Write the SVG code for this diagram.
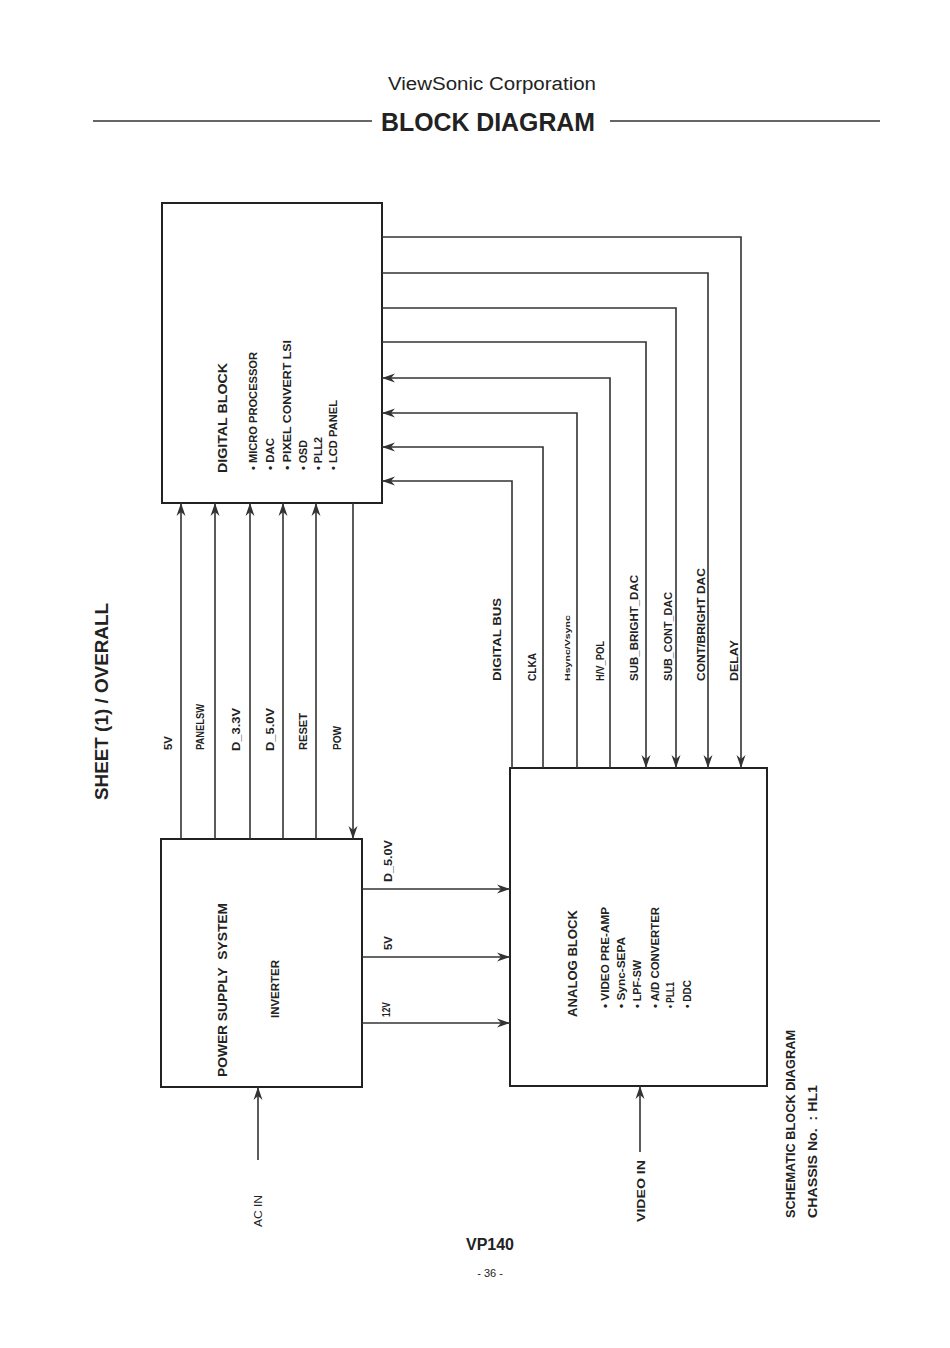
<svg xmlns="http://www.w3.org/2000/svg" width="950" height="1348" viewBox="0 0 950 1348">
<style>
.bg{fill:#fff}
.box{fill:none;stroke:#222;stroke-width:2}
.ln{fill:none;stroke:#333;stroke-width:1.6}
.t{font-family:"Liberation Sans",Arial,sans-serif;fill:#222}
.s{font-size:10px;font-weight:bold}
.m{font-size:13px;font-weight:bold}
.i{font-size:10px;font-weight:bold}
</style>
<defs>
<marker id="ah" markerWidth="14" markerHeight="10" viewBox="0 -5 14 10" refX="13" refY="0" orient="auto" markerUnits="userSpaceOnUse">
<path d="M0,-4.5 L13,0 L0,4.5 L4,0 Z" fill="#333"/>
</marker>
</defs>
<rect class="bg" x="0" y="0" width="950" height="1348"/>

<g id="header">
<text class="t" x="492" y="90" font-size="18" text-anchor="middle" textLength="208" lengthAdjust="spacingAndGlyphs">ViewSonic Corporation</text>
<line x1="93" y1="121" x2="372" y2="121" stroke="#333" stroke-width="1.5"/>
<line x1="610" y1="121" x2="880" y2="121" stroke="#333" stroke-width="1.5"/>
<text class="t" x="488" y="131" font-size="25" font-weight="bold" text-anchor="middle" textLength="214" lengthAdjust="spacingAndGlyphs">BLOCK DIAGRAM</text>
</g>

<g id="sheet-title">
<text class="t" transform="translate(108,800) rotate(-90)" font-size="18" font-weight="bold" textLength="197" lengthAdjust="spacingAndGlyphs">SHEET (1) / OVERALL</text>
</g>

<g id="digital-block">
<rect class="box" x="162" y="203" width="220" height="300"/>
<text class="t m" transform="translate(227,473) rotate(-90)" textLength="110" lengthAdjust="spacingAndGlyphs">DIGITAL BLOCK</text>
<text class="t i" transform="translate(257,470) rotate(-90)" textLength="118" lengthAdjust="spacingAndGlyphs">• MICRO PROCESSOR</text>
<text class="t i" transform="translate(274,470) rotate(-90)" textLength="32" lengthAdjust="spacingAndGlyphs">• DAC</text>
<text class="t i" transform="translate(291,470) rotate(-90)" textLength="130" lengthAdjust="spacingAndGlyphs">• PIXEL CONVERT LSI</text>
<text class="t i" transform="translate(307,470) rotate(-90)" textLength="30" lengthAdjust="spacingAndGlyphs">• OSD</text>
<text class="t i" transform="translate(322,470) rotate(-90)" textLength="33" lengthAdjust="spacingAndGlyphs">• PLL2</text>
<text class="t i" transform="translate(337,470) rotate(-90)" textLength="70" lengthAdjust="spacingAndGlyphs">• LCD PANEL</text>
</g>

<g id="power-supply">
<rect class="box" x="161" y="839" width="201" height="248"/>
<text class="t m" transform="translate(227,1077) rotate(-90)" textLength="174" lengthAdjust="spacingAndGlyphs">POWER SUPPLY&#160;&#160;SYSTEM</text>
<text class="t i" transform="translate(279,1018) rotate(-90)" textLength="58" lengthAdjust="spacingAndGlyphs">INVERTER</text>
</g>

<g id="analog-block">
<rect class="box" x="510" y="768" width="257" height="318"/>
<text class="t m" transform="translate(577,1017) rotate(-90)" textLength="107" lengthAdjust="spacingAndGlyphs">ANALOG BLOCK</text>
<text class="t i" transform="translate(609,1008) rotate(-90)" textLength="101" lengthAdjust="spacingAndGlyphs">• VIDEO PRE-AMP</text>
<text class="t i" transform="translate(625,1008) rotate(-90)" textLength="71" lengthAdjust="spacingAndGlyphs">• Sync-SEPA</text>
<text class="t i" transform="translate(641,1008) rotate(-90)" textLength="48" lengthAdjust="spacingAndGlyphs">• LPF-SW</text>
<text class="t i" transform="translate(659,1008) rotate(-90)" textLength="101" lengthAdjust="spacingAndGlyphs">• A/D CONVERTER</text>
<text class="t i" transform="translate(674,1008) rotate(-90)" textLength="26" lengthAdjust="spacingAndGlyphs">• PLL1</text>
<text class="t i" transform="translate(691,1008) rotate(-90)" textLength="28" lengthAdjust="spacingAndGlyphs">• DDC</text>
</g>

<g id="connectors">
<polyline class="ln" points="382,237 741,237 741,768" marker-end="url(#ah)"/>
<polyline class="ln" points="382,273 708,273 708,768" marker-end="url(#ah)"/>
<polyline class="ln" points="382,308 676,308 676,768" marker-end="url(#ah)"/>
<polyline class="ln" points="382,342 646,342 646,768" marker-end="url(#ah)"/>
<polyline class="ln" points="610,768 610,378 382,378" marker-end="url(#ah)"/>
<polyline class="ln" points="577,768 577,413 382,413" marker-end="url(#ah)"/>
<polyline class="ln" points="543,768 543,447 382,447" marker-end="url(#ah)"/>
<polyline class="ln" points="512,768 512,481 382,481" marker-end="url(#ah)"/>
<line class="ln" x1="181" y1="839" x2="181" y2="503" marker-end="url(#ah)"/>
<line class="ln" x1="215" y1="839" x2="215" y2="503" marker-end="url(#ah)"/>
<line class="ln" x1="250" y1="839" x2="250" y2="503" marker-end="url(#ah)"/>
<line class="ln" x1="283" y1="839" x2="283" y2="503" marker-end="url(#ah)"/>
<line class="ln" x1="316" y1="839" x2="316" y2="503" marker-end="url(#ah)"/>
<line class="ln" x1="353" y1="503" x2="353" y2="839" marker-end="url(#ah)"/>
<line class="ln" x1="362" y1="889" x2="510" y2="889" marker-end="url(#ah)"/>
<line class="ln" x1="362" y1="957" x2="510" y2="957" marker-end="url(#ah)"/>
<line class="ln" x1="362" y1="1023" x2="510" y2="1023" marker-end="url(#ah)"/>
<line class="ln" x1="258" y1="1160" x2="258" y2="1087" marker-end="url(#ah)"/>
<line class="ln" x1="640" y1="1152" x2="640" y2="1086" marker-end="url(#ah)"/>
</g>

<g id="connector-labels">
<text class="t s" transform="translate(172,750) rotate(-90)" textLength="14" lengthAdjust="spacingAndGlyphs">5V</text>
<text class="t s" transform="translate(204,750) rotate(-90)" textLength="46" lengthAdjust="spacingAndGlyphs">PANELSW</text>
<text class="t s" transform="translate(240,751) rotate(-90)" textLength="43" lengthAdjust="spacingAndGlyphs">D_3.3V</text>
<text class="t s" transform="translate(274,751) rotate(-90)" textLength="43" lengthAdjust="spacingAndGlyphs">D_5.0V</text>
<text class="t s" transform="translate(307,750) rotate(-90)" textLength="37" lengthAdjust="spacingAndGlyphs">RESET</text>
<text class="t s" transform="translate(341,750) rotate(-90)" textLength="24" lengthAdjust="spacingAndGlyphs">POW</text>

<text class="t s" transform="translate(501,681) rotate(-90)" textLength="83" lengthAdjust="spacingAndGlyphs">DIGITAL BUS</text>
<text class="t s" transform="translate(536,681) rotate(-90)" textLength="28" lengthAdjust="spacingAndGlyphs">CLKA</text>
<text class="t" transform="translate(570,681) rotate(-90)" font-size="8" font-weight="bold" textLength="66" lengthAdjust="spacingAndGlyphs">Hsync/Vsync</text>
<text class="t s" transform="translate(604,681) rotate(-90)" textLength="40" lengthAdjust="spacingAndGlyphs">H/V_POL</text>
<text class="t s" transform="translate(638,681) rotate(-90)" textLength="106" lengthAdjust="spacingAndGlyphs">SUB_BRIGHT_DAC</text>
<text class="t s" transform="translate(672,681) rotate(-90)" textLength="89" lengthAdjust="spacingAndGlyphs">SUB_CONT_DAC</text>
<text class="t s" transform="translate(705,681) rotate(-90)" textLength="113" lengthAdjust="spacingAndGlyphs">CONT/BRIGHT DAC</text>
<text class="t s" transform="translate(738,681) rotate(-90)" textLength="41" lengthAdjust="spacingAndGlyphs">DELAY</text>

<text class="t s" transform="translate(392,882) rotate(-90)" textLength="42" lengthAdjust="spacingAndGlyphs">D_5.0V</text>
<text class="t s" transform="translate(392,950) rotate(-90)" textLength="14" lengthAdjust="spacingAndGlyphs">5V</text>
<text class="t s" transform="translate(390,1017) rotate(-90)" textLength="15" lengthAdjust="spacingAndGlyphs">12V</text>

<text class="t" transform="translate(262,1227) rotate(-90)" font-size="10" textLength="32" lengthAdjust="spacingAndGlyphs">AC IN</text>
<text class="t s" transform="translate(645,1222) rotate(-90)" font-size="11" textLength="62" lengthAdjust="spacingAndGlyphs">VIDEO IN</text>
</g>

<g id="footer">
<text class="t" transform="translate(795,1218) rotate(-90)" font-size="12" font-weight="bold" textLength="188" lengthAdjust="spacingAndGlyphs">SCHEMATIC BLOCK DIAGRAM</text>
<text class="t" transform="translate(817,1218) rotate(-90)" font-size="12" font-weight="bold" textLength="133" lengthAdjust="spacingAndGlyphs">CHASSIS No.&#160;&#160;: HL1</text>
<text class="t" x="490" y="1250" font-size="16" font-weight="bold" text-anchor="middle">VP140</text>
<text class="t" x="490" y="1277" font-size="11" text-anchor="middle">- 36 -</text>
</g>
</svg>
